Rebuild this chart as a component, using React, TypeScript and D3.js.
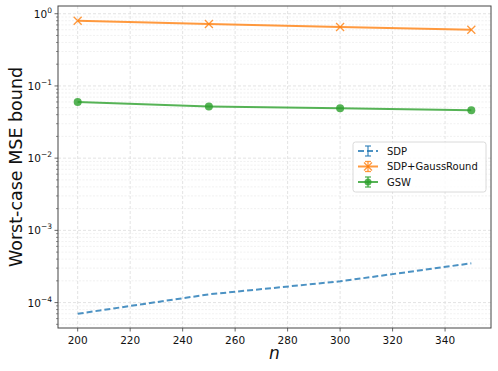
import React from "react";
import * as d3 from "d3";

const nValues = [200, 250, 300, 350];
const sdp = [7.0e-5, 1.3e-4, 1.97e-4, 3.5e-4];
const sdpGauss = [0.80, 0.72, 0.655, 0.60];
const gsw = [0.060, 0.052, 0.049, 0.046];
const xTicks = [200, 220, 240, 260, 280, 300, 320, 340];
const yExponents = [0, -1, -2, -3, -4];
const seriesNames = ["SDP", "SDP+GaussRound", "GSW"];
const seriesColors = ["#1f77b4", "#ff7f0e", "#2ca02c"];

const W = 498, H = 371;
const margin = { left: 58, right: 7, top: 6, bottom: 43 };

const App = () => {
  const ref = React.useRef<SVGSVGElement>(null);

  React.useEffect(() => {
    const svg = d3.select(ref.current);
    svg.selectAll("*").remove();
    const x0 = margin.left, x1 = W - margin.right;
    const y0 = margin.top, y1 = H - margin.bottom;
    const xScale = d3.scaleLinear([192.5, 357.5], [x0, x1]);
    const yScale = d3.scaleLog([Math.pow(10, -4.352), Math.pow(10, 0.107)], [y1, y0]);

    svg.append("rect").attr("x", 0).attr("y", 0).attr("width", W).attr("height", H).attr("fill", "#fff");

    // minor horizontal grid
    const minor: number[] = [];
    for (let e = -5; e <= 0; e++) for (let k = 2; k <= 9; k++) {
      const v = k * Math.pow(10, e);
      if (v >= yScale.domain()[0] && v <= yScale.domain()[1]) minor.push(v);
    }
    const grid = svg.append("g");
    grid.selectAll(".minor").data(minor).join("line")
      .attr("x1", x0).attr("x2", x1)
      .attr("y1", d => yScale(d)).attr("y2", d => yScale(d))
      .attr("stroke", "#e8e8e8").attr("stroke-width", 0.6).attr("stroke-dasharray", "2,1.5");
    grid.selectAll(".majy").data(yExponents).join("line")
      .attr("x1", x0).attr("x2", x1)
      .attr("y1", d => yScale(Math.pow(10, d))).attr("y2", d => yScale(Math.pow(10, d)))
      .attr("stroke", "#dcdcdc").attr("stroke-width", 0.8).attr("stroke-dasharray", "3,2");
    grid.selectAll(".majx").data(xTicks).join("line")
      .attr("x1", d => xScale(d)).attr("x2", d => xScale(d))
      .attr("y1", y0).attr("y2", y1)
      .attr("stroke", "#dcdcdc").attr("stroke-width", 0.8).attr("stroke-dasharray", "3,2");

    const allData = [sdp, sdpGauss, gsw];
    const line = d3.line<number>().x((_, i) => xScale(nValues[i])).y(d => yScale(d));
    allData.forEach((vals, si) => {
      svg.append("path").datum(vals)
        .attr("fill", "none")
        .attr("stroke", seriesColors[si])
        .attr("stroke-opacity", 0.8)
        .attr("stroke-width", 2)
        .attr("stroke-dasharray", si === 0 ? "6,3" : null)
        .attr("d", line);
    });
    // markers
    const gx = svg.append("g");
    sdpGauss.forEach((v, i) => {
      const cx = xScale(nValues[i]), cy = yScale(v), s = 4;
      gx.append("path").attr("d", `M${cx - s},${cy - s}L${cx + s},${cy + s}M${cx - s},${cy + s}L${cx + s},${cy - s}`)
        .attr("stroke", seriesColors[1]).attr("stroke-opacity", 0.8).attr("stroke-width", 1.3);
    });
    gsw.forEach((v, i) => {
      gx.append("circle").attr("cx", xScale(nValues[i])).attr("cy", yScale(v)).attr("r", 4)
        .attr("fill", seriesColors[2]).attr("fill-opacity", 0.8);
    });

    // axes frame
    svg.append("rect").attr("x", x0).attr("y", y0).attr("width", x1 - x0).attr("height", y1 - y0)
      .attr("fill", "none").attr("stroke", "#444").attr("stroke-width", 1);

    const font = "DejaVu Sans, sans-serif";
    // x ticks
    const xt = svg.append("g");
    xTicks.forEach(t => {
      const px = xScale(t);
      xt.append("line").attr("x1", px).attr("x2", px).attr("y1", y1).attr("y2", y1 + 3.5).attr("stroke", "#444").attr("stroke-width", 0.8);
      xt.append("text").attr("x", px).attr("y", y1 + 16).attr("text-anchor", "middle")
        .attr("font-family", font).attr("font-size", 10.5).attr("fill", "#111").text(t);
    });
    // y ticks
    const yt = svg.append("g");
    minor.forEach(v => {
      yt.append("line").attr("x1", x0 - 2).attr("x2", x0).attr("y1", yScale(v)).attr("y2", yScale(v)).attr("stroke", "#444").attr("stroke-width", 0.6);
    });
    yExponents.forEach(e => {
      const py = yScale(Math.pow(10, e));
      yt.append("line").attr("x1", x0 - 3.5).attr("x2", x0).attr("y1", py).attr("y2", py).attr("stroke", "#444").attr("stroke-width", 0.8);
      const txt = yt.append("text").attr("x", x0 - 6).attr("y", py + 4).attr("text-anchor", "end")
        .attr("font-family", font).attr("font-size", 10.5).attr("fill", "#111");
      txt.append("tspan").text("10");
      txt.append("tspan").attr("dy", -5).attr("font-size", 7.5).text(e === 0 ? "0" : "\u2212" + Math.abs(e));
    });

    // axis labels
    svg.append("text").attr("transform", `translate(22,${(y0 + y1) / 2}) rotate(-90)`)
      .attr("text-anchor", "middle").attr("font-family", font).attr("font-size", 17.5).attr("fill", "#111")
      .text("Worst-case MSE bound");
    svg.append("text").attr("x", (x0 + x1) / 2).attr("y", H - 12).attr("text-anchor", "middle")
      .attr("font-family", font).attr("font-size", 17).attr("font-style", "italic").attr("fill", "#111").text("n");

    // legend
    const lg = svg.append("g");
    lg.append("rect").attr("x", 353).attr("y", 142).attr("width", 133).attr("height", 50).attr("rx", 2.5)
      .attr("fill", "#fff").attr("fill-opacity", 0.8).attr("stroke", "#d0d0d0").attr("stroke-width", 0.8);
    seriesNames.forEach((name, i) => {
      const ly = 151 + i * 15.5, c = seriesColors[i];
      const g = lg.append("g").attr("stroke", c).attr("stroke-opacity", 0.8);
      g.append("line").attr("x1", 358).attr("x2", 378).attr("y1", ly).attr("y2", ly)
        .attr("stroke-width", 2).attr("stroke-dasharray", i === 0 ? "6,3" : null);
      g.append("line").attr("x1", 368).attr("x2", 368).attr("y1", ly - 5).attr("y2", ly + 5).attr("stroke-width", 1.3);
      g.append("line").attr("x1", 365).attr("x2", 371).attr("y1", ly - 5).attr("y2", ly - 5).attr("stroke-width", 1.3);
      g.append("line").attr("x1", 365).attr("x2", 371).attr("y1", ly + 5).attr("y2", ly + 5).attr("stroke-width", 1.3);
      if (i === 1) g.append("path").attr("d", `M364,${ly - 4}L372,${ly + 4}M364,${ly + 4}L372,${ly - 4}`).attr("stroke-width", 1.3);
      if (i === 2) g.append("circle").attr("cx", 368).attr("cy", ly).attr("r", 3.5).attr("fill", c).attr("fill-opacity", 0.8).attr("stroke", "none");
      lg.append("text").attr("x", 387).attr("y", ly + 3.7).attr("font-family", font).attr("font-size", 10).attr("fill", "#111").text(name);
    });
  }, []);

  return <svg ref={ref} width={W} height={H} style={{ display: "block", position: "absolute", left: 0, top: 0 }} />;
};

export default App;
